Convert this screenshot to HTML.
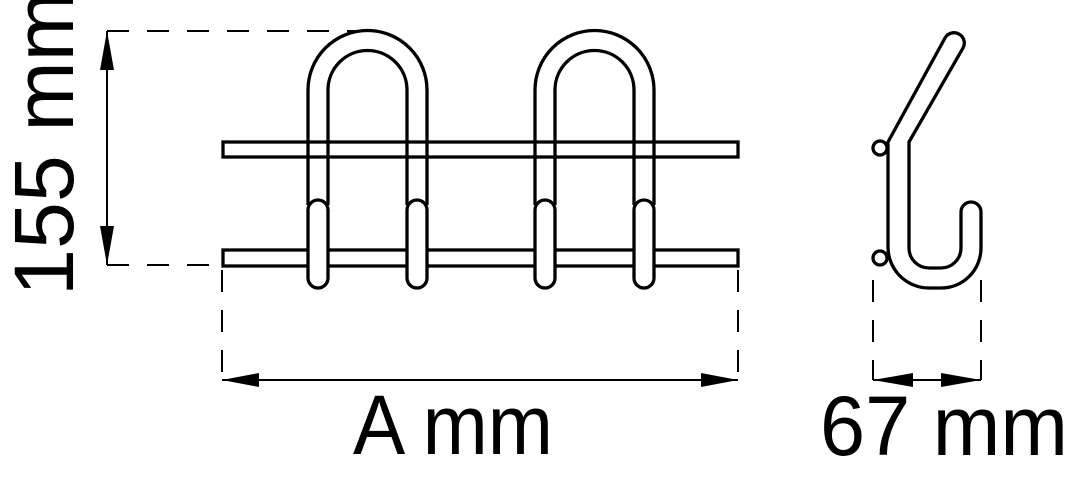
<!DOCTYPE html>
<html><head><meta charset="utf-8"><style>
html,body{margin:0;padding:0;background:#fff;}
svg{display:block;}
text{font-family:"Liberation Sans",sans-serif;fill:#000;}
</style></head><body>
<svg width="1074" height="485" viewBox="0 0 1074 485" xmlns="http://www.w3.org/2000/svg">
<g fill="none" stroke="#000" stroke-width="3.3">
  <rect x="223" y="142" width="515" height="15" fill="#fff"/>
  <rect x="223" y="250" width="515" height="16" fill="#fff"/>
  <g id="h">
    <path d="M308 205 V90 A59.5 59.5 0 0 1 427 90 V205" fill="none"/>
    <path d="M328 205 V90 A39.5 39.5 0 0 1 407 90 V205" fill="none"/>
    <rect x="308" y="200" width="20" height="88" rx="10" fill="#fff"/>
    <rect x="407" y="200" width="20" height="88" rx="10" fill="#fff"/>
  </g>
  <use href="#h" transform="translate(227,0)"/>
  <path d="M888 142 L945 38 A10 10 0 0 1 963 48 L909 142 V248 A20 20 0 0 0 929 268 H941 A20 20 0 0 0 961 248 V212 A10 10 0 0 1 981 212 V248 A40 40 0 0 1 941 288 H929 A41 41 0 0 1 888 247 Z"/>
  <circle cx="880" cy="148" r="7" fill="#fff"/>
  <circle cx="880" cy="258" r="7" fill="#fff"/>
  <g stroke-width="2">
    <line x1="107" y1="31" x2="107" y2="265"/>
    <line x1="107" y1="31" x2="370" y2="31" stroke-dasharray="22,18"/>
    <line x1="107" y1="265" x2="222" y2="265" stroke-dasharray="22,18"/>
    <line x1="222" y1="270" x2="222" y2="380" stroke-dasharray="22,18"/>
    <line x1="738" y1="270" x2="738" y2="380" stroke-dasharray="22,18"/>
    <line x1="222" y1="380" x2="738" y2="380"/>
    <line x1="873" y1="280" x2="873" y2="380" stroke-dasharray="22,18"/>
    <line x1="981" y1="280" x2="981" y2="380" stroke-dasharray="22,18"/>
    <line x1="873" y1="380" x2="981" y2="380"/>
  </g>
</g>
<g fill="#000">
  <polygon points="107,31 100,70 114,70"/>
  <polygon points="107,265 100,226 114,226"/>
  <polygon points="222,380 259,373 259,387"/>
  <polygon points="738,380 701,373 701,387"/>
  <polygon points="873,380 913,373 913,387"/>
  <polygon points="981,380 941,373 941,387"/>
</g>
<text x="353" y="454" font-size="84" textLength="200" lengthAdjust="spacingAndGlyphs">A mm</text>
<text x="820" y="455" font-size="84" textLength="248" lengthAdjust="spacingAndGlyphs">67 mm</text>
<text transform="translate(73,296) rotate(-90)" font-size="84" textLength="305" lengthAdjust="spacingAndGlyphs">155 mm</text>
</svg>
</body></html>
